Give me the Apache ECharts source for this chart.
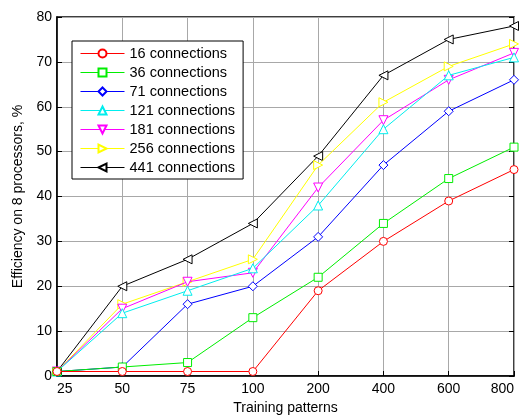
<!DOCTYPE html>
<html>
<head>
<meta charset="UTF-8">
<script src="https://cdn.jsdelivr.net/npm/echarts@6/dist/echarts.min.js"></script>
<style>
  html, body { margin: 0; padding: 0; background: #fff; }
  #chart { width: 521px; height: 417px; }
</style>
</head>
<body>
<div id="chart"></div>
<script>
// training patterns (x categories)
const patterns = ['25', '50', '75', '100', '200', '400', '600', '800'];

// efficiency, %
const c16  = [1, 1, 1, 1, 19, 30, 39, 46];
const c36  = [1, 2, 3, 13, 22, 34, 44, 51];
const c71  = [1, 2, 16, 20, 31, 47, 59, 66];
const c121 = [1, 14, 19, 24, 38, 55, 67, 71];
const c181 = [1, 15, 21, 23, 42, 57, 66, 72];
const c256 = [1, 16, 21, 26, 47, 61, 69, 74];
const c441 = [1, 20, 26, 34, 49, 67, 75, 78];

const names = ['16 connections', '36 connections', '71 connections', '121 connections',
               '181 connections', '256 connections', '441 connections'];
const seriesData = [c16, c36, c71, c121, c181, c256, c441];
const colors = ['#ff0000', '#00ee00', '#0000ff', '#00eeee', '#ff00ff', '#ffff00', '#000000'];
const symbols = ['circle', 'rect', 'diamond', 'triangle', 'triangle', 'triangle', 'triangle'];
const rotates = [0, 0, 0, 0, 180, -90, 90];
const sizes = [8, 8, 9, 9, 9, 9, 9];

const chart = echarts.init(document.getElementById('chart'));

const font = 'Liberation Sans, Arial, sans-serif';

chart.setOption({
  animation: false,
  backgroundColor: '#fff',
  textStyle: { fontFamily: font },
  grid: {
    left: 57, right: 7, top: 17, bottom: 41,
    outerBoundsMode: 'none',
    show: true, borderColor: '#000', borderWidth: 1.5, backgroundColor: 'transparent'
  },
  legend: {
    orient: 'vertical',
    left: 72, top: 41,
    width: 171,
    padding: [5, 8, 4, 8],
    itemWidth: 44, itemHeight: 10,
    itemGap: 4,
    backgroundColor: '#fff',
    borderColor: '#000',
    borderWidth: 1,
    lineStyle: { width: 1 },
    textStyle: { fontSize: 14.5, lineHeight: 14, color: '#000', fontFamily: font },
    data: names
  },
  xAxis: {
    type: 'category',
    data: patterns,
    boundaryGap: false,
    name: 'Training patterns',
    nameLocation: 'middle',
    nameGap: 24,
    nameTextStyle: { fontSize: 14, color: '#000' },
    axisLine: { lineStyle: { color: '#000', width: 1.5 } },
    axisTick: { inside: true, length: 5, lineStyle: { color: '#000' } },
    axisLabel: { fontSize: 14, color: '#000', margin: 6, alignMinLabel: 'left', alignMaxLabel: 'right' },
    splitLine: { show: true, lineStyle: { color: '#a8a8a8', width: 1 } }
  },
  yAxis: [{
    type: 'value',
    min: 0, max: 80, interval: 10,
    name: 'Efficiency on 8 processors, %',
    nameLocation: 'middle',
    nameGap: 27,
    nameTextStyle: { fontSize: 14, color: '#000' },
    axisLine: { show: true, lineStyle: { color: '#000', width: 1.5 } },
    axisTick: { show: true, inside: true, length: 5, lineStyle: { color: '#000' } },
    axisLabel: { fontSize: 14, color: '#000', margin: 5 },
    splitLine: { show: true, lineStyle: { color: '#a8a8a8', width: 1 } }
  }, {
    type: 'value',
    position: 'right',
    min: 0, max: 80, interval: 10,
    axisLine: { show: false },
    axisTick: { show: true, inside: true, length: 5, lineStyle: { color: '#000' } },
    axisLabel: { show: false },
    splitLine: { show: false }
  }],
  series: seriesData.map((d, i) => ({
    name: names[i],
    type: 'line',
    data: d,
    symbol: symbols[i],
    symbolSize: sizes[i],
    symbolRotate: rotates[i],
    showAllSymbol: true,
    z: 10 - i,
    lineStyle: { color: colors[i], width: 1 },
    itemStyle: { color: '#fff', borderColor: colors[i], borderWidth: 1 }
  }))
});
</script>
</body>
</html>
